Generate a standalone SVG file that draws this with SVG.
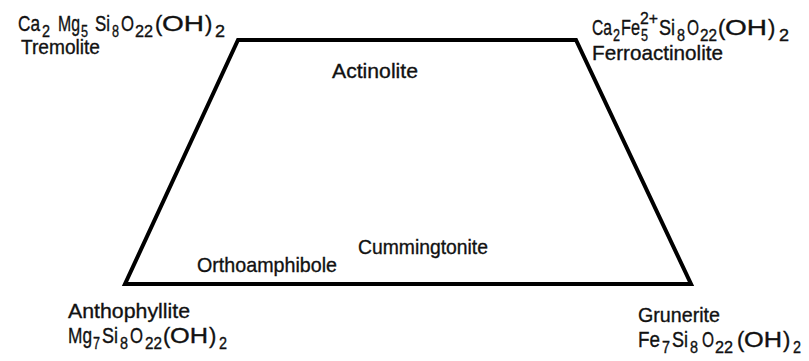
<svg xmlns="http://www.w3.org/2000/svg" width="809" height="361" viewBox="0 0 809 361">
<style>
text{font-family:"Liberation Sans",Arial,sans-serif;fill:#111;stroke:#111;stroke-width:0.35;}
.m{font-size:22px;}
.s{font-size:16px;}
.lbl{font-size:21px;}
.edge{fill:none;stroke:#000;stroke-width:4;stroke-linejoin:miter;}
</style>
<rect width="809" height="361" fill="#fff"/>
<g id="connectors">
<path class="edge" d="M238,40 L576,40 L691,284 L125,284 Z"/>
</g>
<g id="tremolite">
<text class="m"><tspan x="18" y="31" textLength="22" lengthAdjust="spacingAndGlyphs">Ca</tspan><tspan class="s" x="42" y="37" textLength="8" lengthAdjust="spacingAndGlyphs">2</tspan><tspan x="58" y="31" textLength="22" lengthAdjust="spacingAndGlyphs">Mg</tspan><tspan class="s" x="81" y="37" textLength="7" lengthAdjust="spacingAndGlyphs">5</tspan><tspan x="95" y="31" textLength="15" lengthAdjust="spacingAndGlyphs">Si</tspan><tspan class="s" x="112" y="37" textLength="7" lengthAdjust="spacingAndGlyphs">8</tspan><tspan x="121" y="31" textLength="13" lengthAdjust="spacingAndGlyphs">O</tspan><tspan class="s" x="135" y="37" textLength="18" lengthAdjust="spacingAndGlyphs">22</tspan><tspan x="155" y="31">(</tspan><tspan x="162" y="31" textLength="42" lengthAdjust="spacingAndGlyphs">OH</tspan><tspan x="205" y="31">)</tspan><tspan class="s" x="215" y="37" textLength="10" lengthAdjust="spacingAndGlyphs">2</tspan></text>
<text class="lbl" x="21" y="54" textLength="79" lengthAdjust="spacingAndGlyphs">Tremolite</text>
</g>
<g id="ferroactinolite">
<text class="m"><tspan x="592" y="35" textLength="20" lengthAdjust="spacingAndGlyphs">Ca</tspan><tspan class="s" x="613" y="41" textLength="7" lengthAdjust="spacingAndGlyphs">2</tspan><tspan x="621" y="35" textLength="19" lengthAdjust="spacingAndGlyphs">Fe</tspan><tspan class="s" x="641" y="41" textLength="7" lengthAdjust="spacingAndGlyphs">5</tspan><tspan class="s" x="640" y="24" textLength="18" lengthAdjust="spacingAndGlyphs">2+</tspan><tspan x="659" y="35" textLength="16" lengthAdjust="spacingAndGlyphs">Si</tspan><tspan class="s" x="677" y="41" textLength="8" lengthAdjust="spacingAndGlyphs">8</tspan><tspan x="687" y="35" textLength="12" lengthAdjust="spacingAndGlyphs">O</tspan><tspan class="s" x="700" y="41" textLength="17" lengthAdjust="spacingAndGlyphs">22</tspan><tspan x="718" y="35">(</tspan><tspan x="725" y="35" textLength="42" lengthAdjust="spacingAndGlyphs">OH</tspan><tspan x="768" y="35">)</tspan><tspan class="s" x="779" y="41" textLength="10" lengthAdjust="spacingAndGlyphs">2</tspan></text>
<text class="lbl" x="592" y="60" textLength="131" lengthAdjust="spacingAndGlyphs">Ferroactinolite</text>
</g>
<g id="actinolite">
<text class="lbl" x="332" y="78" textLength="86" lengthAdjust="spacingAndGlyphs">Actinolite</text>
</g>
<g id="cummingtonite">
<text class="lbl" x="358" y="254" textLength="130" lengthAdjust="spacingAndGlyphs">Cummingtonite</text>
</g>
<g id="orthoamphibole">
<text class="lbl" x="197" y="272" textLength="140" lengthAdjust="spacingAndGlyphs">Orthoamphibole</text>
</g>
<g id="anthophyllite">
<text class="lbl" x="68" y="318" textLength="122" lengthAdjust="spacingAndGlyphs">Anthophyllite</text>
<text class="m"><tspan x="68" y="343" textLength="24" lengthAdjust="spacingAndGlyphs">Mg</tspan><tspan class="s" x="93" y="349" textLength="7" lengthAdjust="spacingAndGlyphs">7</tspan><tspan x="102" y="343" textLength="16" lengthAdjust="spacingAndGlyphs">Si</tspan><tspan class="s" x="120" y="349" textLength="8" lengthAdjust="spacingAndGlyphs">8</tspan><tspan x="130" y="343" textLength="13" lengthAdjust="spacingAndGlyphs">O</tspan><tspan class="s" x="145" y="349" textLength="17" lengthAdjust="spacingAndGlyphs">22</tspan><tspan x="163" y="343">(</tspan><tspan x="170" y="343" textLength="38" lengthAdjust="spacingAndGlyphs">OH</tspan><tspan x="209" y="343">)</tspan><tspan class="s" x="219" y="349" textLength="8" lengthAdjust="spacingAndGlyphs">2</tspan></text>
</g>
<g id="grunerite">
<text class="lbl" x="638" y="322" textLength="82" lengthAdjust="spacingAndGlyphs">Grunerite</text>
<text class="m"><tspan x="638" y="347" textLength="22" lengthAdjust="spacingAndGlyphs">Fe</tspan><tspan class="s" x="662" y="353" textLength="8" lengthAdjust="spacingAndGlyphs">7</tspan><tspan x="672" y="347" textLength="16" lengthAdjust="spacingAndGlyphs">Si</tspan><tspan class="s" x="690" y="353" textLength="8" lengthAdjust="spacingAndGlyphs">8</tspan><tspan x="702" y="347" textLength="12" lengthAdjust="spacingAndGlyphs">O</tspan><tspan class="s" x="715" y="353" textLength="18" lengthAdjust="spacingAndGlyphs">22</tspan><tspan x="737" y="347">(</tspan><tspan x="744" y="347" textLength="38" lengthAdjust="spacingAndGlyphs">OH</tspan><tspan x="783" y="347">)</tspan><tspan class="s" x="793" y="353" textLength="8" lengthAdjust="spacingAndGlyphs">2</tspan></text>
</g>
</svg>
